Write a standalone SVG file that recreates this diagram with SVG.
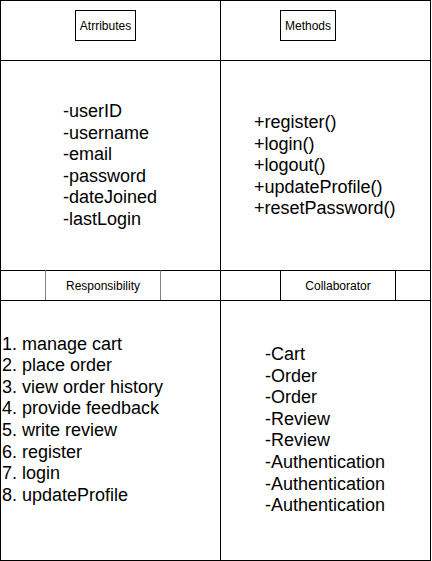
<svg xmlns="http://www.w3.org/2000/svg" width="432" height="561" viewBox="0 0 432 561">
<style>
.cell{fill:#ffffff;stroke:#000000;stroke-width:1}
.lbl{font-family:"Liberation Sans",Arial,sans-serif;font-size:12px;fill:#000000;text-anchor:middle}
.big{font-family:"Liberation Sans",Arial,sans-serif;font-size:18px;fill:#000000}
</style>
<rect x="0" y="0" width="432" height="561" fill="#ffffff"/>
<g id="attributes-header">
<rect class="cell" x="0.5" y="0.5" width="220" height="60"/>
<rect class="cell" x="75.5" y="10.5" width="60" height="30"/>
<text class="lbl" x="105.5" y="29.5">Atrributes</text>
</g>
<g id="methods-header">
<rect class="cell" x="220.5" y="0.5" width="210" height="60"/>
<rect class="cell" x="280.5" y="10.5" width="55" height="30"/>
<text class="lbl" x="308" y="29.5">Methods</text>
</g>
<g id="attributes">
<rect class="cell" x="0.5" y="60.5" width="220" height="210"/>
<text class="big" x="63" y="117">
<tspan x="63" y="117">-userID</tspan>
<tspan x="63" y="138.6">-username</tspan>
<tspan x="63" y="160.2">-email</tspan>
<tspan x="63" y="181.8">-password</tspan>
<tspan x="63" y="203.4">-dateJoined</tspan>
<tspan x="63" y="225">-lastLogin</tspan>
</text>
</g>
<g id="methods">
<rect class="cell" x="220.5" y="60.5" width="210" height="210"/>
<text class="big" x="254" y="128">
<tspan x="254" y="128">+register()</tspan>
<tspan x="254" y="149.6">+login()</tspan>
<tspan x="254" y="171.2">+logout()</tspan>
<tspan x="254" y="192.8">+updateProfile()</tspan>
<tspan x="254" y="214.4">+resetPassword()</tspan>
</text>
</g>
<g id="responsibility-header">
<rect class="cell" x="0.5" y="270.5" width="220" height="30"/>
<rect x="45.5" y="270.5" width="115" height="30" fill="#ffffff" stroke="none"/>
<line x1="45.5" y1="270.5" x2="160.5" y2="270.5" stroke="#000000"/>
<line x1="45.5" y1="300.5" x2="160.5" y2="300.5" stroke="#000000"/>
<line x1="45.5" y1="270.5" x2="45.5" y2="300.5" stroke="#808080"/>
<line x1="160.5" y1="270.5" x2="160.5" y2="300.5" stroke="#808080"/>
<text class="lbl" x="103" y="289.5">Responsibility</text>
</g>
<g id="collaborator-header">
<rect class="cell" x="220.5" y="270.5" width="210" height="30"/>
<rect class="cell" x="280.5" y="270.5" width="115" height="30"/>
<text class="lbl" x="338" y="289.5">Collaborator</text>
</g>
<g id="responsibilities">
<rect class="cell" x="0.5" y="300.5" width="220" height="260"/>
<text class="big" x="2" y="349.5">
<tspan x="2" y="349.5">1. manage cart</tspan>
<tspan x="2" y="371.1">2. place order</tspan>
<tspan x="2" y="392.7">3. view order history</tspan>
<tspan x="2" y="414.3">4. provide feedback</tspan>
<tspan x="2" y="435.9">5. write review</tspan>
<tspan x="2" y="457.5">6. register</tspan>
<tspan x="2" y="479.1">7. login</tspan>
<tspan x="2" y="500.7">8. updateProfile</tspan>
</text>
</g>
<g id="collaborators">
<rect class="cell" x="220.5" y="300.5" width="210" height="260"/>
<text class="big" x="265" y="360">
<tspan x="265" y="360">-Cart</tspan>
<tspan x="265" y="381.6">-Order</tspan>
<tspan x="265" y="403.2">-Order</tspan>
<tspan x="265" y="424.8">-Review</tspan>
<tspan x="265" y="446.4">-Review</tspan>
<tspan x="265" y="468">-Authentication</tspan>
<tspan x="265" y="489.6">-Authentication</tspan>
<tspan x="265" y="511.2">-Authentication</tspan>
</text>
</g>
<g id="connectors"></g>
</svg>
